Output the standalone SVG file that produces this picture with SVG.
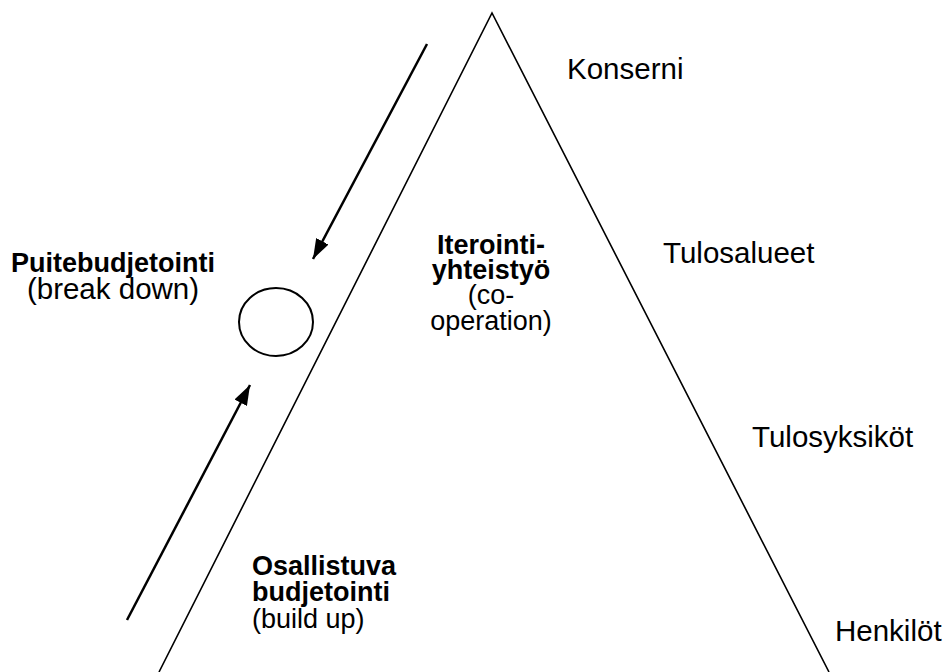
<svg xmlns="http://www.w3.org/2000/svg" width="947" height="672" viewBox="0 0 947 672">
  <defs>
    <marker id="head" viewBox="0 0 20 14" refX="20" refY="7" markerWidth="20" markerHeight="14" markerUnits="userSpaceOnUse" orient="auto">
      <path d="M0,0 L20,7 L0,14 Z" fill="#000"/>
    </marker>
    <style>
      .t { font-family: Arial, "Liberation Sans", sans-serif; font-size: 27px; fill: #000; }
      .lv { font-size: 29.5px; }
      .b { font-weight: bold; }
      .edge { stroke: #000; fill: none; }
    </style>
  </defs>
  <rect width="947" height="672" fill="#fff"/>

  <!-- pyramid -->
  <g id="pyramid">
    <polyline class="edge" stroke-width="1.6" points="159,672 492,13 829,672"/>
  </g>

  <!-- meeting point of the two budgeting flows -->
  <g id="meeting">
    <ellipse cx="276" cy="322" rx="37" ry="34" fill="none" stroke="#000" stroke-width="2"/>
  </g>

  <g id="connectors">
    <line class="edge" stroke-width="2.5" x1="427" y1="44" x2="313" y2="259" marker-end="url(#head)"/>
    <line class="edge" stroke-width="2.5" x1="127" y1="620" x2="250" y2="385" marker-end="url(#head)"/>
  </g>

  <!-- organisational levels -->
  <g id="level-konserni"><text class="t lv" x="567" y="79">Konserni</text></g>
  <g id="level-tulosalueet"><text class="t lv" x="663" y="263">Tulosalueet</text></g>
  <g id="level-tulosyksikot"><text class="t lv" x="752" y="447">Tulosyksiköt</text></g>
  <g id="level-henkilot"><text class="t lv" x="835" y="641">Henkilöt</text></g>

  <g id="puitebudjetointi" text-anchor="middle">
    <text class="t b" x="113" y="272">Puitebudjetointi</text>
    <text class="t lv" x="113" y="299">(break down)</text>
  </g>

  <g id="iterointi" text-anchor="middle">
    <text class="t b" x="491" y="254">Iterointi-</text>
    <text class="t b" x="491" y="279">yhteistyö</text>
    <text class="t" x="491" y="304">(co-</text>
    <text class="t" x="491" y="330">operation)</text>
  </g>

  <g id="osallistuva">
    <text class="t b" x="252" y="575">Osallistuva</text>
    <text class="t b" x="252" y="601">budjetointi</text>
    <text class="t" x="252" y="628">(build up)</text>
  </g>
</svg>
